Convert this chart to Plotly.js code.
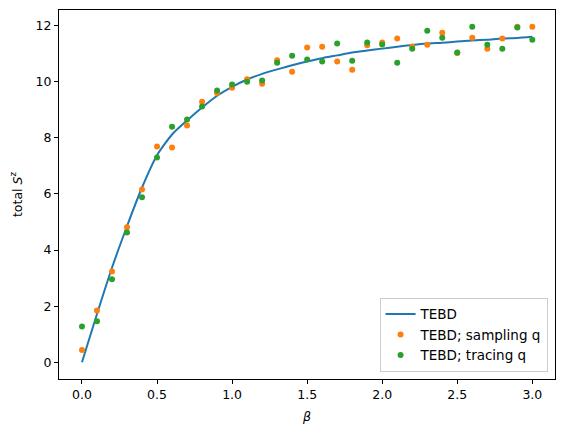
<!DOCTYPE html>
<html>
<head>
<meta charset="utf-8">
<script src="https://cdn.plot.ly/plotly-3.0.1.min.js"></script>
<style>html,body{margin:0;padding:0;background:#fff;}#chart{width:565px;height:436px;}</style>
</head>
<body>
<div id="chart"></div>
<script>
const beta = [0.0,0.1,0.2,0.3,0.4,0.5,0.6,0.7,0.8,0.9,1.0,1.1,1.2,1.3,1.4,1.5,1.6,1.7,1.8,1.9,2.0,2.1,2.2,2.3,2.4,2.5,2.6,2.7,2.8,2.9,3.0];
const tebd = [0.0,1.72,3.37,4.85,6.23,7.38,8.12,8.62,9.08,9.50,9.82,10.08,10.28,10.44,10.59,10.72,10.84,10.94,11.04,11.11,11.18,11.25,11.31,11.36,11.39,11.43,11.47,11.50,11.54,11.56,11.60];
const sampling = [0.44,1.85,3.24,4.81,6.16,7.69,7.66,8.44,9.29,9.60,9.79,10.09,9.93,10.77,10.36,11.22,11.25,10.72,10.43,11.30,11.40,11.54,11.26,11.32,11.75,11.02,11.57,11.18,11.54,11.96,11.96];
const tracing = [1.28,1.46,2.96,4.63,5.88,7.30,8.40,8.65,9.12,9.69,9.90,10.00,10.04,10.68,10.93,10.79,10.72,11.36,10.75,11.40,11.33,10.68,11.18,11.82,11.57,11.04,11.96,11.32,11.18,11.93,11.50];
const xTicks = [0.0,0.5,1.0,1.5,2.0,2.5,3.0];
const yTicks = [0,2,4,6,8,10,12];

const traces = [
  {x: beta, y: tebd, mode: 'lines', name: 'TEBD', line: {color: '#1f77b4', width: 2, shape: 'spline', smoothing: 0.6}},
  {x: beta, y: sampling, mode: 'markers', name: 'TEBD; sampling q', marker: {color: '#ff7f0e', size: 6}},
  {x: beta, y: tracing, mode: 'markers', name: 'TEBD; tracing q', marker: {color: '#2ca02c', size: 6}}
];
const axisCommon = {showline: true, mirror: true, linecolor: '#000', linewidth: 1, ticks: 'outside', ticklen: 4, tickcolor: '#000', showgrid: false, zeroline: false, tickfont: {size: 12.5, color: '#000'}};
const layout = {
  width: 565, height: 436,
  margin: {l: 59, r: 10, t: 10, b: 57},
  paper_bgcolor: '#fff', plot_bgcolor: '#fff',
  font: {family: 'DejaVu Sans, sans-serif', color: '#000', size: 12.5},
  xaxis: Object.assign({}, axisCommon, {range: [-0.153, 3.151], tickvals: xTicks, ticktext: xTicks.map(v => v.toFixed(1)), title: {text: '<i>β</i>', font: {size: 12.5}, standoff: 11}}),
  yaxis: Object.assign({}, axisCommon, {range: [-0.595, 12.557], tickvals: yTicks, ticktext: yTicks.map(String), title: {text: 'total <i>S</i><sup>z</sup>', font: {size: 12.5}, standoff: 10}}),
  legend: {x: 0.985, xanchor: 'right', y: 0.02, yanchor: 'bottom', bordercolor: '#cccccc', borderwidth: 1, bgcolor: 'rgba(255,255,255,0.8)', font: {size: 13.5}, tracegroupgap: 0},
  showlegend: true
};
Plotly.newPlot('chart', traces, layout, {displayModeBar: false, staticPlot: true});
</script>
</body>
</html>
